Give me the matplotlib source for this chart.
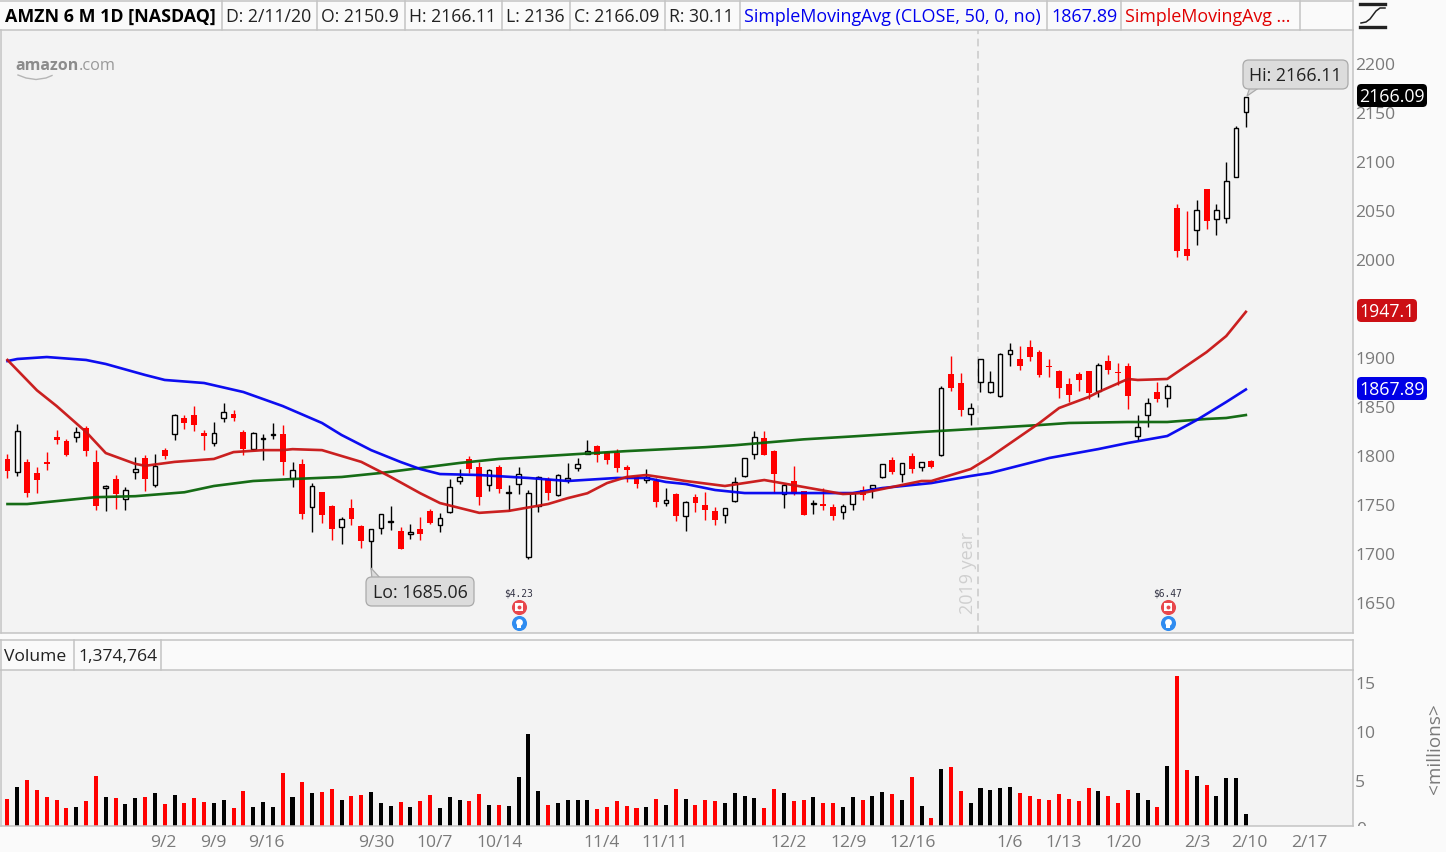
import matplotlib
matplotlib.use("Agg")
import matplotlib.pyplot as plt
from matplotlib.transforms import Bbox
from matplotlib.patches import Rectangle, FancyBboxPatch, Polygon
from matplotlib.lines import Line2D
import numpy as np

W, H = 1446, 852
plt.rcParams['font.family'] = ['Open Sans', 'DejaVu Sans']

open_ = [1797,1783.4,1793.9,1782.7,1793.9,1819.4,1815.3,1819.8,1828.6,1793.9,
 1767,1776.6,1755.8,1783.4,1798,1770.1,1806.2,1822.1,1838.8,1841.9,
 1823.5,1813,1838.5,1842.9,1824.5,1807.5,1817,1821.1,1822.5,1777.2,
 1791.9,1747.7,1763.3,1749,1727.2,1746.6,1728.5,1712.9,1726.2,1732.3,
 1723.4,1720,1725.5,1743.5,1729.2,1742.5,1774.1,1796.9,1788.7,1770,
 1788.7,1761.9,1771.1,1697.2,1748.9,1776.2,1760.5,1775.8,1788.1,1802,
 1810.2,1804,1803,1788.7,1778.5,1775.5,1774.8,1751.7,1761.3,1738.5,
 1758.2,1750,1743.9,1739.5,1753.8,1780,1801.7,1818.4,1805.1,1760.9,
 1774.5,1764,1751.4,1751.1,1748,1742.5,1750.7,1765,1767,1778.3,
 1796,1781.3,1799.7,1788.5,1794.9,1801.4,1883.7,1874.5,1842.5,1875.2,
 1865,1860.9,1904.4,1898.7,1911.2,1906.1,1891.9,1886.8,1873.5,1883.7,
 1886.8,1866,1896.6,1885.7,1891.9,1820.1,1841.5,1865.3,1858.9,2053.1,
 2011.2,2030.3,2072.5,2041.5,2042.5,2085,2150.9]
high = [1801.7,1832.3,1797,1788.5,1803.8,1826.6,1817.4,1830,1830.6,1806.2,
 1770.4,1780.6,1768.1,1799,1800.7,1801.7,1808.2,1842.9,1841.5,1851.1,
 1826.6,1834.4,1853.8,1846.6,1826.6,1824.2,1822.1,1833.4,1831.3,1793.6,
 1796.6,1772.8,1763.6,1749.7,1737.4,1755.7,1729.2,1725.5,1740.4,1748.6,
 1727.2,1730.2,1738.1,1745.5,1742.1,1776.8,1786.4,1800,1793.5,1786.4,
 1790.8,1770,1788.4,1765.3,1779.6,1778.2,1781.6,1792.5,1797.6,1816.3,
 1810.8,1805.4,1806.8,1790.8,1780.6,1786.4,1777.2,1767.3,1761.9,1753.8,
 1760.9,1763,1747.7,1746.6,1778.3,1798,1825.5,1825.5,1805.8,1771.5,
 1789.5,1764.3,1755.1,1767,1751.1,1750.7,1763.6,1769.4,1770.1,1792.2,
 1798.7,1792.9,1803.4,1793.6,1795.6,1871.1,1902.1,1884.4,1853.8,1898.7,
 1886.4,1904.8,1915,1912.3,1918.4,1907.9,1898.7,1887.4,1879.3,1886.1,
 1887.1,1894.6,1903.1,1895.3,1895.3,1841.5,1858.9,1875.2,1873.2,2057.2,
 2049.7,2061.2,2072.5,2057.2,2099.7,2136.4,2166.11]
low = [1777.2,1780,1757.9,1761.9,1785.7,1812.6,1800.4,1814.7,1800.4,1745.3,
 1743.6,1746.3,1744.6,1776.9,1764.7,1768.1,1796.6,1816,1827.2,1825.2,
 1805.8,1809.9,1834.4,1835.4,1800.7,1805.8,1795.6,1817.7,1781,1768.1,
 1736.1,1722.8,1732,1714,1709.8,1729.2,1705.7,1685.06,1720,1724.1,
 1705,1714.9,1713.9,1730.2,1722.1,1742.1,1771.1,1782.3,1749.6,1764.6,
 1762.2,1743.8,1760.8,1695.2,1742.5,1755.1,1759.1,1772.1,1785,1801.7,
 1794.2,1791.8,1784,1773.8,1767.3,1772.1,1747.6,1748.9,1733.4,1723.2,
 1743.2,1734.4,1730,1731.3,1753.4,1778.9,1797.3,1801,1761.9,1747.3,
 1760.5,1739.8,1740.5,1745.3,1734.7,1736.1,1745.3,1755.5,1757.5,1777.9,
 1782,1773.8,1783,1785.1,1788.1,1799.7,1866.7,1841.2,1832,1865,
 1864.8,1860.5,1892.2,1887.4,1896.6,1880.3,1881,1858.9,1855.5,1866.7,
 1857.8,1860.6,1884,1872.5,1847.6,1816,1830,1855.5,1850.4,2002.7,
 2000.4,2015.7,2032,2025.2,2037.8,2085,2136]
close = [1785.1,1825.2,1762.3,1775.9,1792.2,1816.4,1801.1,1824.2,1805.5,1749.4,
 1769.4,1761.6,1765,1786.4,1776.9,1789.8,1800.4,1841.5,1834,1832,
 1820.8,1823.2,1844.6,1839.1,1807.5,1823.2,1818.1,1822.1,1794.3,1785.4,
 1741.2,1769.1,1740.2,1725.9,1736,1736,1713.6,1725.1,1740.4,1733.6,
 1705.4,1722.1,1720.7,1731.9,1736.4,1768,1778.2,1787,1757.8,1786,
 1766,1763.2,1781.3,1761.9,1778.2,1762.6,1780.2,1777.2,1791.5,1804.7,
 1801.3,1796.2,1788.1,1786,1771.7,1778.2,1753.4,1754.7,1738.8,1752.8,
 1752.4,1744.9,1734.7,1746.6,1773.8,1797.6,1819.1,1801.4,1781.7,1770.1,
 1760.9,1740.2,1752.4,1749.4,1738.8,1748.7,1761.9,1760.6,1770.1,1791.5,
 1783.7,1792.5,1787.1,1793.6,1788.8,1869.1,1869.4,1847.3,1848.7,1898.7,
 1875.2,1903.8,1907.8,1892.2,1901.4,1882.7,1891.2,1869.8,1862.6,1877.9,
 1864.3,1892.5,1888.1,1885.1,1861.6,1829.3,1853.8,1858.5,1871.1,2009.5,
 2004.4,2050.7,2040.2,2050.7,2080.3,2134.4,2166.09]
volume_m = [3.13,4.36,5.08,4.05,3.33,3.03,2.21,2.31,2.93,5.48,3.33,3.23,2.62,3.23,3.33,3.74,
 2.62,3.54,2.72,3.23,2.82,2.72,3.03,2.21,3.95,2.31,2.82,2.31,5.79,3.33,4.87,3.74,3.85,4.15,
 3.03,3.44,3.54,3.85,2.72,2.41,2.82,2.31,2.93,3.54,2.21,3.33,3.03,2.93,3.64,
 2.52,2.52,2.42,5.39,9.79,3.95,2.52,2.72,3.03,3.03,3.03,2.11,2.31,2.93,2.42,2.21,2.31,3.13,
 2.52,4.16,3.13,2.52,3.03,2.93,2.72,3.75,3.44,3.24,2.21,4.16,3.75,2.93,3.03,3.34,2.72,2.72,
 2.31,3.34,3.03,3.44,3.85,3.65,3.03,5.39,2.42,1.19,6.2,6.41,
 3.95,2.72,4.25,4.05,4.25,4.36,3.74,3.43,3.13,3.03,3.64,3.13,2.92,4.25,3.95,3.43,2.72,4.05,
 3.74,3.03,2.31,6.51,15.72,6.1,5.48,4.56,3.43,5.28,5.28,1.59]

sma50_bar = [0,1,4,8,10,14,16,20,24,28,32,34,35,37,40,42,44,48,53,57,62,65,67,69,72,75,79,86,89,94,98,100,106,111,114,118,121,124,126]
sma50 = [1896.9,1899,1901,1898,1893.9,1882.7,1877.6,1874.5,1865.3,1851,1833.7,1821.4,1816.3,1806,1793.9,1786.7,1781.6,1780.6,1777.6,1774.5,1777.6,1777.6,1773.5,1771.4,1765.3,1762.2,1762.2,1762.2,1767.3,1772.4,1779.6,1782.7,1798,1807.1,1813.3,1820.4,1836.7,1855.1,1867.89]
sma20_bar = [0,3,5,8,10,13,14,17,21,23,26,28,29,32,34,36,39,42,44,48,51,55,57,59,61,63,65,67,69,73,77,81,85,87,93,94,96,98,100,101,105,107,110,111,114,115,118,122,124,126]
sma20 = [1898,1867,1851,1824.5,1803,1792,1790,1794,1797,1804,1806,1806,1807,1806,1800,1794,1778.6,1762,1752,1742,1744,1751,1757,1762,1772.4,1778.6,1780.6,1777.6,1774.5,1769.4,1775.5,1768.4,1761.2,1762.2,1774.5,1774.5,1780.6,1786.7,1799,1806,1833.7,1849,1860.2,1865.3,1878.6,1877.6,1878.6,1906,1922.4,1947.1]
sma200_bar = [0,2,9,13,18,21,25,29,34,38,46,50,58,63,67,71,74,81,86,93,100,105,108,114,118,122,124,126]
sma200 = [1751,1751,1758,1759,1763,1769.4,1774.5,1776.5,1778.6,1782.7,1792.9,1797,1802,1805,1807,1809,1811,1817,1820,1824.5,1828.6,1831.6,1833.7,1834.7,1834.7,1837.8,1838.8,1841.8]

price_ticks = [1650,1700,1750,1800,1850,1900,1950,2000,2050,2100,2150,2200]
price_tick_labels = ['1650','1700','1750','1800','1850','1900','','2000','2050','2100','2150','2200']
vol_ticks = [5,10,15]
date_bars = [15.9,20.9,26.3,37.5,43.5,50.05,60.5,66.9,79.5,85.6,92.1,102,107.5,113.6,121.1,126.4,132.5]
date_labels = ['9/2','9/9','9/16','9/30','10/7','10/14','11/4','11/11','12/2','12/9','12/16','1/6','1/13','1/20','2/3','2/10','2/17']
header_cells = [('AMZN 6 M 1D [NASDAQ]', 5, 'black', 'bold', 12.9), ('D: 2/11/20', 226, '#222', 'normal', 12.7),
                ('O: 2150.9', 321, '#222', 'normal', 12.7), ('H: 2166.11', 409, '#222', 'normal', 12.7),
                ('L: 2136', 506, '#222', 'normal', 12.7), ('C: 2166.09', 574, '#222', 'normal', 12.7),
                ('R: 30.11', 669, '#222', 'normal', 12.7), ('SimpleMovingAvg (CLOSE, 50, 0, no)', 744, '#0000ee', 'normal', 12.9),
                ('1867.89', 1051, '#0000ee', 'normal', 13), ('SimpleMovingAvg ...', 1125, '#e00000', 'normal', 12.9)]
header_seps = [222, 317, 405, 502, 570, 665, 740, 1047, 1121, 1300]

GRID = '#c4c4c4'
PANE = '#f3f3f3'
BG = '#fafafa'
TICK = '#7a7a7a'

fig = plt.figure(figsize=(W/100, H/100), dpi=100, facecolor=BG)

def axes_px(x0, y0, x1, y1):
    return fig.add_axes([x0/W, 1-y1/H, (x1-x0)/W, (y1-y0)/H])

def T(x, y, s, **kw):
    kw.setdefault('va', 'center')
    kw.setdefault('ha', 'left')
    if 'rotation' not in kw:
        y = y + 2
    return fig.text(x/W, 1-y/H, s, **kw)

def hline(x0, x1, y, c=GRID, lw=1.1):
    fig.add_artist(Line2D([x0/W, x1/W], [1-y/H, 1-y/H], color=c, lw=lw))

def vline(x, y0, y1, c=GRID, lw=1.1):
    fig.add_artist(Line2D([x/W, x/W], [1-y0/H, 1-y1/H], color=c, lw=lw))

o, h, l, c = map(np.array, (open_, high, low, close))
bars = np.arange(len(o))
is_down = c < o
XLIM = (-0.71, 136.9)

# ---- price pane
ax = axes_px(0.5, 30, 1353, 633)
ax.set_facecolor(PANE)
ax.set_xlim(*XLIM)
ax.set_ylim(1619.4, 2234.7)
ax.axvline(98.7, color='#c8c8c8', lw=1.1, ls=(0, (5, 3)), zorder=1)
ax.vlines(bars[~is_down], l[~is_down], h[~is_down], color='black', lw=1.0, zorder=2)
ax.vlines(bars[is_down], l[is_down], h[is_down], color='#ff0000', lw=1.0, zorder=2)
ax.bar(bars[~is_down], (c-o)[~is_down], bottom=o[~is_down], width=0.47, facecolor='white',
       edgecolor='black', linewidth=1.0, zorder=3)
ax.bar(bars[is_down], (o-c)[is_down], bottom=c[is_down], width=0.6, color='#ff0000', lw=0, zorder=3)
ax.plot(sma200_bar, sma200, color='#0a650a', lw=1.9, alpha=0.95, zorder=4, solid_joinstyle='round')
ax.plot(sma50_bar, sma50, color='#0000f0', lw=1.9, alpha=0.95, zorder=5, solid_joinstyle='round')
ax.plot(sma20_bar, sma20, color='#c81414', lw=1.9, alpha=0.95, zorder=6, solid_joinstyle='round')
ax.yaxis.tick_right()
ax.set_yticks(price_ticks)
ax.set_yticklabels(price_tick_labels, fontsize=12.6, color=TICK)
ax.tick_params(axis='y', length=0, pad=1.6)
ax.set_xticks([])
for s in ax.spines.values():
    s.set_color(GRID); s.set_linewidth(1.1)
ax.spines['top'].set_visible(False)

# earnings markers
for bar_i, txt in [(52, '$4.23'), (118.05, '$6.47')]:
    ax.scatter([bar_i], [1645.9], s=118, color='#e8474c', zorder=7, lw=0)
    ax.scatter([bar_i], [1645.9], s=28, color='white', marker='s', zorder=8, lw=0)
    ax.scatter([bar_i], [1645.6], s=8, color='#e8474c', marker='o', zorder=9, lw=0)
    ax.scatter([bar_i], [1629.6], s=118, color='#2f8cf0', zorder=7, lw=0)
    ax.scatter([bar_i], [1630.6], s=24, color='white', zorder=8, lw=0)
    ax.scatter([bar_i], [1626.4], s=7, color='white', marker='s', zorder=8, lw=0)
    ax.text(bar_i, 1659.2, txt, ha='center', va='center', fontsize=6.9, family='DejaVu Sans Mono', color='#334')

# logo
T(15, 64, 'amazon', fontsize=11.5, color='#8c8c8c', weight='bold')
T(79, 64, '.com', fontsize=11.8, color='#9a9a9a')
smile_x = [18, 26, 36, 46, 52]
smile_y = [75, 78, 79.5, 78, 75.5]
fig.add_artist(Line2D([v/W for v in smile_x], [1-v/H for v in smile_y], color='#b5b5b5', lw=1.0))

# year label
T(968, 573, '2019 year', rotation=90, ha='center', fontsize=13, color='#cfcfcf')

# callouts
def callout(x0, y0, x1, y1, txt, tri):
    fig.add_artist(Polygon([(v[0]/W, 1-v[1]/H) for v in tri], closed=True, transform=fig.transFigure,
                           facecolor='#dcdcdc', edgecolor='#aaaaaa', lw=0.9, zorder=20))
    fig.add_artist(FancyBboxPatch((x0/W, 1-y1/H), (x1-x0)/W, (y1-y0)/H, transform=fig.transFigure,
                                  boxstyle='round,pad=0,rounding_size=0.004', mutation_aspect=W/H,
                                  facecolor='#dcdcdc', edgecolor='#aaaaaa', lw=0.9, zorder=21))
    T((x0+x1)/2, (y0+y1)/2-0.5, txt, ha='center', fontsize=12.8, color='#222', zorder=22)

callout(1243, 60, 1348, 89, 'Hi: 2166.11', [(1247, 96), (1250, 87), (1260, 87)])
callout(366, 577, 474, 606, 'Lo: 1685.06', [(371, 568), (372, 579), (381, 579)])

# price badges
for y, txt, col, wd in [(95.5, '2166.09', 'black', 70), (310.5, '1947.1', '#cc0f14', 60), (388.5, '1867.89', '#0000e6', 70)]:
    fig.add_artist(FancyBboxPatch((1357/W, 1-(y+11.5)/H), wd/W, 23/H, transform=fig.transFigure,
                                  boxstyle='round,pad=0,rounding_size=0.003', mutation_aspect=W/H,
                                  facecolor=col, edgecolor='none', zorder=23))
    T(1357+wd/2, y-0.5, txt, ha='center', fontsize=12.8, color='white', zorder=24)

# ---- header row
fig.add_artist(Rectangle((0, 1-30/H), 1353/W, 30/H, transform=fig.transFigure, facecolor=BG, edgecolor='none', zorder=0))
hline(0, 1353, 30)
hline(0, 1353, 1)
vline(1353, 0, 30)
for sx in header_seps:
    vline(sx, 1, 30)
for txt, x, col, wt, fs in header_cells:
    T(x, 15, txt, fontsize=fs, color=col, weight=wt)

# icon
hline(1360, 1385, 4, c='#222', lw=2.4)
hline(1360, 1385, 27, c='#222', lw=2.4)
icon_x = [1361, 1366, 1370, 1373, 1376, 1380, 1385]
icon_y = [23, 22, 19, 15, 11, 8, 8]
fig.add_artist(Line2D([v/W for v in icon_x], [1-v/H for v in icon_y], color='#222', lw=1.1))

# ---- volume pane
hline(0, 1353, 640)
vline(0.5, 640, 670)
vline(1353, 640, 670)
vline(74, 640, 670)
vline(161, 640, 670)
T(4, 655, 'Volume', fontsize=12.6, color='#222')
T(78.5, 655, '1,374,764', fontsize=12.6, color='#222')

axv = axes_px(0.5, 670, 1353, 826)
axv.set_facecolor(PANE)
axv.set_xlim(*XLIM)
axv.set_ylim(0.37, 16.33)
vol = np.array(volume_m)
axv.bar(bars[~is_down], vol[~is_down], width=0.41, color='black', lw=0)
axv.bar(bars[is_down], vol[is_down], width=0.41, color='#ff0000', lw=0)
axv.yaxis.tick_right()
axv.set_yticks(vol_ticks)
axv.set_yticklabels([str(v) for v in vol_ticks], fontsize=12.6, color=TICK)
axv.tick_params(axis='y', length=0, pad=1.6)
axv.set_xticks(date_bars)
axv.set_xticklabels(date_labels, fontsize=12.6, color=TICK)
axv.tick_params(axis='x', length=0, pad=6.5)
for s in axv.spines.values():
    s.set_color(GRID); s.set_linewidth(1.1)

zero = T(1356, 827.6, '0', fontsize=12.6, color=TICK)
zero.set_clip_box(Bbox([[1340, H-826], [1400, H-800]]))
zero.set_clip_on(True)

T(1435, 749, '<millions>', rotation=90, ha='center', fontsize=13.6, color=TICK)

fig.savefig('out.png', dpi=100, facecolor=BG)
